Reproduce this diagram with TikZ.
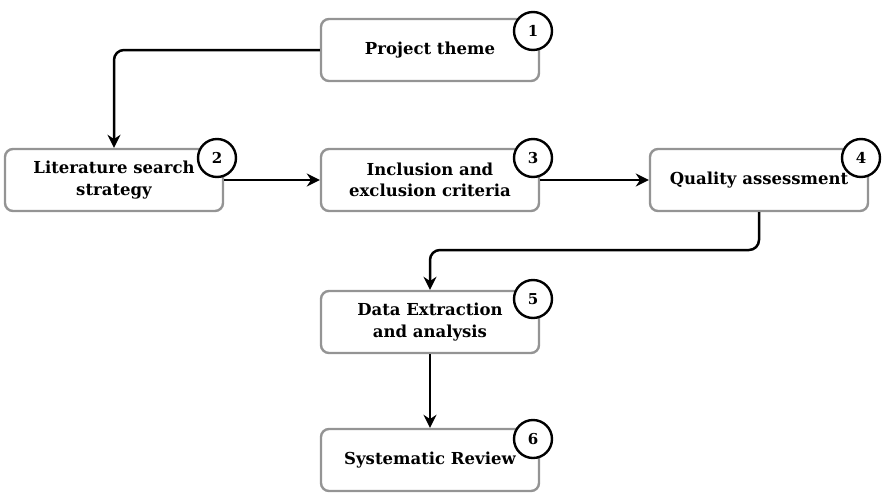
\documentclass[tikz,border=0pt]{standalone}
\usepackage{fontspec}
\setmainfont{DejaVu Serif}
\usetikzlibrary{arrows.meta}
\begin{document}
\begin{tikzpicture}[x=1pt,y=-1pt,
  stepbox/.style={draw=black!42, line width=2.4pt, rounded corners=8pt, fill=white,
    minimum width=218pt, minimum height=62pt, align=center,
    font=\bfseries\fontsize{16.5}{21.5}\selectfont, inner sep=2pt},
  badge/.style={circle, draw=black, line width=2.4pt, fill=white, minimum size=38pt,
    inner sep=0pt, font=\bfseries\fontsize{15}{17}\selectfont},
  flow/.style={line width=2.5pt, -{Stealth[length=13pt,width=13pt]}, rounded corners=10pt}]
\useasboundingbox (0,0) rectangle (886,496);
\node[stepbox] (s1) at (430,50) {Project theme};
\node[stepbox] (s2) at (114,180) {Literature search\\strategy};
\node[stepbox] (s3) at (430,180) {Inclusion and\\exclusion criteria};
\node[stepbox] (s4) at (759,180) {Quality assessment};
\node[stepbox] (s5) at (430,322) {Data Extraction\\and analysis};
\node[stepbox] (s6) at (430,460) {Systematic Review};
\node[badge] (b1) at (533,31) {1};
\node[badge] (b2) at (217,158) {2};
\node[badge] (b3) at (533,158) {3};
\node[badge] (b4) at (861,158) {4};
\node[badge] (b5) at (533,299) {5};
\node[badge] (b6) at (533,439) {6};
\draw[flow] (s1.west) -| (s2.north);
\draw[flow] (s2.east) -- (s3.west);
\draw[flow] (s3.east) -- (s4.west);
\draw[flow] (s4.south) |- (595,250) -| (s5.north);
\draw[flow] (s5.south) -- (s6.north);
\end{tikzpicture}
\end{document}
